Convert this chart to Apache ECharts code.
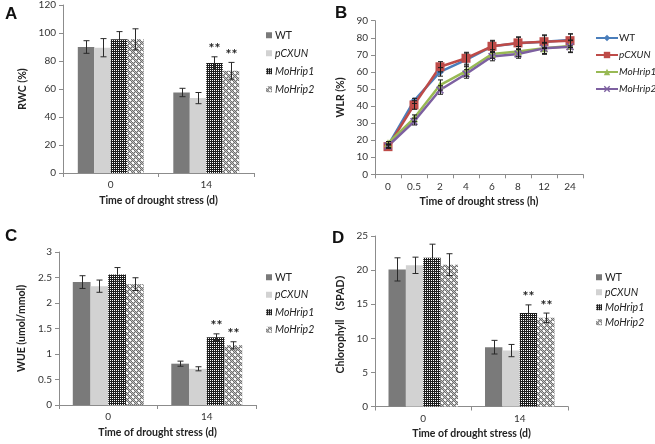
<!DOCTYPE html>
<html><head><meta charset="utf-8">
<script src="https://cdn.jsdelivr.net/npm/echarts@6/dist/echarts.min.js"></script>
<style>
html,body{margin:0;padding:0;background:#fff;}
#wrap{position:relative;width:655px;height:444px;overflow:hidden;}
.p{position:absolute;width:328px;height:222px;}
</style>
</head><body>
<div id="wrap">
<div class="p" id="pa" style="left:0;top:0"></div>
<div class="p" id="pb" style="left:327px;top:0"></div>
<div class="p" id="pc" style="left:0;top:222px"></div>
<div class="p" id="pd" style="left:327px;top:222px"></div>
</div>
<script>
// ---------- data ----------
const seriesNames = ['WT', 'pCXUN', 'MoHrip1', 'MoHrip2'];
const dayCats = ['0', '14'];
const hourCats = ['0', '0.5', '2', '4', '6', '8', '12', '24'];

// significance marks per series (bar panels)
const sigWT = ['', ''];
const sigPCXUN = ['', ''];
const sigM1 = ['', '**'];
const sigM2 = ['', '**'];

// Panel A: RWC (%)
const rwcWT = [90, 57.5];      const rwcWTErr = [4.5, 3];
const rwcPCXUN = [89.5, 53.5]; const rwcPCXUNErr = [6.5, 4];
const rwcM1 = [95.5, 78.5];    const rwcM1Err = [5.5, 4.5];
const rwcM2 = [95.5, 73];      const rwcM2Err = [7.5, 6];

// Panel B: WLR (%)
const wlrWT = [16.8, 43, 60, 67, 75, 76.8, 77.7, 78.7];
const wlrWTErr = [1, 1.5, 2.5, 4, 3, 3.5, 3.5, 3.5];
const wlrPCXUN = [16.2, 40.6, 63, 68, 75, 77, 77.7, 78.3];
const wlrPCXUNErr = [1, 2.5, 3, 3.5, 3.5, 3.5, 4, 4];
const wlrM1 = [18.2, 32.8, 52.3, 60.5, 70.5, 71.9, 73.8, 75.2];
const wlrM1Err = [1, 2, 3, 3, 2.5, 3, 3.5, 3.5];
const wlrM2 = [16.6, 30.9, 49.4, 58.8, 69, 70.5, 73.8, 74.8];
const wlrM2Err = [1, 2, 2.5, 2.5, 2.5, 2.5, 3, 3.5];

// Panel C: WUE (umol/mmol)
const wueWT = [2.41, 0.81];    const wueWTErr = [0.125, 0.05];
const wuePCXUN = [2.33, 0.71]; const wuePCXUNErr = [0.12, 0.04];
const wueM1 = [2.56, 1.33];    const wueM1Err = [0.135, 0.065];
const wueM2 = [2.37, 1.17];    const wueM2Err = [0.125, 0.07];

// Panel D: Chlorophyll (SPAD)
const chlWT = [20.1, 8.7];     const chlWTErr = [1.7, 1.0];
const chlPCXUN = [20.7, 8.2];  const chlPCXUNErr = [1.2, 0.9];
const chlM1 = [21.8, 13.7];    const chlM1Err = [2.0, 1.2];
const chlM2 = [20.8, 13.0];    const chlM2Err = [1.6, 0.7];

// ---------- styles ----------
const FONT = 'Lato, "Noto Sans CJK SC", sans-serif';
const AXIS_COLOR = '#8c8c8c';
const LABEL_COLOR = '#333';

function makePattern(w, h, draw) {
  const c = document.createElement('canvas');
  c.width = w; c.height = h;
  draw(c.getContext('2d'));
  return { image: c, repeat: 'repeat' };
}
const patM1 = makePattern(2, 2, ctx => {
  ctx.fillStyle = '#1c1c1c'; ctx.fillRect(0, 0, 2, 2);
  ctx.fillStyle = '#ffffff'; ctx.fillRect(0, 0, 1, 1);
});
const patM2 = makePattern(6, 6, ctx => {
  for (let y = 0; y < 6; y++) for (let x = 0; x < 6; x++) {
    ctx.fillStyle = ((x + y) % 2 === 0) ? '#6e6e6e' : '#c4c4c4';
    ctx.fillRect(x, y, 1, 1);
  }
  ctx.fillStyle = '#ffffff';
  ctx.fillRect(0, 0, 2, 2);
  ctx.fillRect(3, 3, 2, 2);
});
const barColors = ['#7a7a7a', '#d2d2d2', patM1, patM2];
const lineColors = ['#4a7ebb', '#be4b48', '#98b954', '#7d60a0'];
const lineSymbols = ['diamond', 'rect', 'triangle',
  'path://M0,1.5L1.5,0L5,3.5L8.5,0L10,1.5L6.5,5L10,8.5L8.5,10L5,6.5L1.5,10L0,8.5L3.5,5Z'];
const lineSymbolSizes = [8, 9, 8, 8];

function valueAxis(min, max, interval, name, nameGap) {
  return {
    type: 'value', min: min, max: max, interval: interval,
    name: name, nameLocation: 'middle', nameGap: nameGap,
    nameTextStyle: { fontFamily: FONT, fontWeight: 'bold', fontSize: 10.5, color: '#222' },
    axisLine: { show: true, lineStyle: { color: AXIS_COLOR, width: 1 } },
    axisTick: { show: true, length: 4, lineStyle: { color: AXIS_COLOR } },
    axisLabel: { fontFamily: FONT, fontSize: 10, color: LABEL_COLOR, margin: 7 },
    splitLine: { show: false }
  };
}
function catAxis(cats, name) {
  return {
    type: 'category', data: cats, boundaryGap: true,
    name: name, nameLocation: 'middle', nameGap: 22,
    nameTextStyle: { fontFamily: FONT, fontWeight: 'bold', fontSize: 10.5, color: '#222' },
    axisLine: { show: true, lineStyle: { color: AXIS_COLOR, width: 1 } },
    axisTick: { show: true, length: 4, alignWithLabel: false, lineStyle: { color: AXIS_COLOR } },
    axisLabel: { fontFamily: FONT, fontSize: 10, color: LABEL_COLOR, margin: 7 },
    splitLine: { show: false }
  };
}
function panelLetter(t, x, y) {
  return { type: 'text', left: x, top: y,
    style: { text: t, font: 'bold 17px "Liberation Sans", Arial, sans-serif', fill: '#111' } };
}

function barPanel(id, cfg) {
  const chart = echarts.init(document.getElementById(id));
  const GAP = cfg.gap;
  const sigs = [sigWT, sigPCXUN, sigM1, sigM2];
  const errData = [];
  const errSig = [];
  cfg.values.forEach((vals, si) => {
    vals.forEach((v, ci) => {
      errData.push([ci, v, cfg.errors[si][ci], si]);
      errSig.push(sigs[si][ci]);
    });
  });
  const series = seriesNames.map((n, i) => ({
    type: 'bar', name: n, data: cfg.values[i],
    barGap: '0%', barCategoryGap: (GAP * 100) + '%',
    itemStyle: { color: barColors[i] }, silent: true
  }));
  series.push({
    type: 'custom', name: 'err', data: errData, silent: true, z: 5,
    renderItem: function (params, api) {
      const ci = api.value(0), v = api.value(1), e = api.value(2), si = api.value(3);
      const c = api.coord([ci, v]);
      const cw = api.size([1, 0])[0];
      const gw = cw * (1 - GAP), bw = gw / 4;
      const x = Math.round(c[0] - gw / 2 + bw * (si + 0.5)) + 0.5;
      const yt = api.coord([ci, v + e])[1];
      const yb = api.coord([ci, v - e])[1];
      const st = { stroke: '#2a2a2a', lineWidth: 1 };
      const ch = [
        { type: 'line', shape: { x1: x, y1: yt, x2: x, y2: yb }, style: st },
        { type: 'line', shape: { x1: x - 3, y1: yt, x2: x + 3, y2: yt }, style: st },
        { type: 'line', shape: { x1: x - 3, y1: yb, x2: x + 3, y2: yb }, style: st }
      ];
      const s = errSig[params.dataIndex];
      if (s) ch.push({ type: 'text', style: { text: s, x: x, y: yt - 1, align: 'center', verticalAlign: 'bottom',
        font: 'bold 14px ' + FONT, fill: '#222' } });
      return { type: 'group', children: ch };
    }
  });
  chart.setOption({
    animation: false,
    backgroundColor: '#fff',
    grid: cfg.grid,
    xAxis: catAxis(dayCats, 'Time of drought stress (d)'),
    yAxis: valueAxis(cfg.min, cfg.max, cfg.interval, cfg.yName, cfg.yNameGap),
    legend: {
      orient: 'vertical', left: cfg.legend.left, top: cfg.legend.top, padding: 0,
      itemGap: cfg.legend.gap, itemWidth: 6, itemHeight: 6, icon: 'rect',
      textStyle: { fontFamily: FONT, fontSize: 10.5, color: '#222', padding: [0, 0, 0, -2] },
      data: seriesNames.map((n, i) => ({ name: n, textStyle: { fontStyle: i === 0 ? 'normal' : 'italic' } })),
      selectedMode: false
    },
    graphic: [panelLetter(cfg.letter, cfg.letterPos[0], cfg.letterPos[1])],
    series: series
  });
}

barPanel('pa', {
  letter: 'A', letterPos: [5, 6],
  values: [rwcWT, rwcPCXUN, rwcM1, rwcM2],
  errors: [rwcWTErr, rwcPCXUNErr, rwcM1Err, rwcM2Err],
  min: 0, max: 120, interval: 20, yName: 'RWC (%)', yNameGap: 27,
  grid: { left: 63, top: 5, width: 191, height: 168 },
  gap: 0.31,
  legend: { left: 266, top: 30, gap: 7.5 }
});
barPanel('pc', {
  letter: 'C', letterPos: [5, 6],
  values: [wueWT, wuePCXUN, wueM1, wueM2],
  errors: [wueWTErr, wuePCXUNErr, wueM1Err, wueM2Err],
  min: 0, max: 3, interval: 0.5, yName: 'WUE (umol/mmol)', yNameGap: 25,
  grid: { left: 59, top: 30, width: 197, height: 153 },
  gap: 0.28,
  legend: { left: 266, top: 50, gap: 7 }
});
barPanel('pd', {
  letter: 'D', letterPos: [5, 8],
  values: [chlWT, chlPCXUN, chlM1, chlM2],
  errors: [chlWTErr, chlPCXUNErr, chlM1Err, chlM2Err],
  min: 0, max: 25, interval: 5, yName: 'Chlorophyll （SPAD）', yNameGap: 22,
  grid: { left: 46, top: 14, width: 195, height: 174 },
  gap: 0.28,
  legend: { left: 269, top: 50, gap: 4.5 }
});

// Panel B: line chart
(function () {
  const chart = echarts.init(document.getElementById('pb'));
  const vals = [wlrWT, wlrPCXUN, wlrM1, wlrM2];
  const errs = [wlrWTErr, wlrPCXUNErr, wlrM1Err, wlrM2Err];
  const errData = [];
  vals.forEach((arr, si) => arr.forEach((v, ci) => errData.push([ci, v, errs[si][ci]])));
  const series = seriesNames.map((n, i) => ({
    type: 'line', name: n, data: vals[i],
    symbol: lineSymbols[i], symbolSize: lineSymbolSizes[i], showAllSymbol: true,
    lineStyle: { color: lineColors[i], width: 2.5 },
    itemStyle: { color: lineColors[i], borderWidth: 0 },
    z: 3, silent: true
  }));
  series.push({
    type: 'custom', name: 'err', data: errData, silent: true, z: 6,
    renderItem: function (params, api) {
      const ci = api.value(0), v = api.value(1), e = api.value(2);
      const c = api.coord([ci, v]);
      const x = Math.round(c[0]) + 0.5;
      const yt = api.coord([ci, v + e])[1];
      const yb = api.coord([ci, v - e])[1];
      const st = { stroke: '#1a1a1a', lineWidth: 1 };
      return { type: 'group', children: [
        { type: 'line', shape: { x1: x, y1: yt, x2: x, y2: yb }, style: st },
        { type: 'line', shape: { x1: x - 2.5, y1: yt, x2: x + 2.5, y2: yt }, style: st },
        { type: 'line', shape: { x1: x - 2.5, y1: yb, x2: x + 2.5, y2: yb }, style: st }
      ] };
    }
  });
  chart.setOption({
    animation: false,
    backgroundColor: '#fff',
    grid: { left: 48, top: 20.7, width: 208, height: 153.6 },
    xAxis: catAxis(hourCats, 'Time of drought stress (h)'),
    yAxis: valueAxis(0, 90, 10, 'WLR (%)', 22),
    legend: {
      orient: 'vertical', left: 268, top: 33, padding: 0,
      itemGap: 7, itemWidth: 22, itemHeight: 8,
      textStyle: { fontFamily: FONT, fontSize: 10, color: '#222', padding: [0, 0, 0, -4] },
      data: seriesNames.map((n, i) => ({ name: n, textStyle: { fontStyle: i === 0 ? 'normal' : 'italic' } })),
      selectedMode: false
    },
    graphic: [panelLetter('B', 8, 5)],
    series: series
  });
})();
</script>
</body></html>
